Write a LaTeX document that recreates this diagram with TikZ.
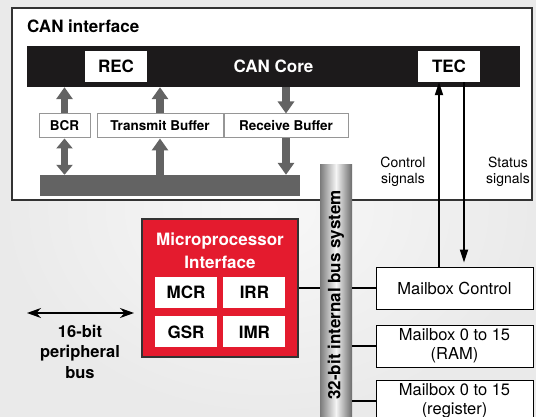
\documentclass[tikz,border=0pt]{standalone}
\usepackage{fontspec}
\setmainfont{TeX Gyre Heros}
\usetikzlibrary{arrows.meta,positioning,calc}
\definecolor{bggray}{RGB}{234,234,234}
\definecolor{bglight}{RGB}{248,248,248}
\definecolor{corebk}{RGB}{28,26,27}
\definecolor{blockgray}{RGB}{99,99,99}
\definecolor{bufline}{RGB}{150,150,150}
\definecolor{mpred}{RGB}{228,27,46}
\definecolor{edge}{RGB}{51,51,51}

\begin{document}
\begin{tikzpicture}[x=1pt, y=-1pt, >=Stealth, every node/.style={inner sep=0pt, font=\fontsize{17}{20}\selectfont\bfseries}, node distance=6pt]
% styles
\tikzstyle{canbox}=[rectangle,draw=edge,line width=1.2pt,fill=white,minimum width=520pt,minimum height=192pt]
\tikzstyle{counter}=[rectangle,fill=white,minimum width=62pt,minimum height=31pt]
\tikzstyle{buffer}=[rectangle,draw=bufline,line width=1pt,fill=white,minimum height=24pt,font=\fontsize{13.5}{16}\selectfont\bfseries]
\tikzstyle{reg}=[rectangle,fill=white,minimum width=62pt,minimum height=31pt]
\tikzstyle{mailbox}=[rectangle,draw=black,line width=1pt,fill=white,minimum width=157pt,minimum height=42pt,align=center,font=\fontsize{16.5}{19}\selectfont]
\tikzstyle{signal}=[align=center,font=\fontsize{14}{16.5}\selectfont]
\tikzstyle{fat}=[draw=blockgray,line width=7.5pt,-{Triangle[width=16pt,length=12pt]}]
\tikzstyle{fatboth}=[draw=blockgray,line width=7.5pt,{Triangle[width=16pt,length=10pt]}-{Triangle[width=16pt,length=10pt]}]
\tikzstyle{sig}=[draw=black,line width=1.8pt,-{Triangle[width=8pt,length=13pt]}]
\tikzstyle{tap}=[draw=black,line width=1.5pt]

% background
\useasboundingbox (0,0) rectangle (536,417);
\clip (0,0) rectangle (536,417);
\shade[inner color=bglight, outer color=bggray] (0,0) rectangle (536,417);

% CAN interface
\node[canbox] (can) at (272,104) {};
\node[anchor=base west] (cantitle) at (27,33) {CAN interface};
\node[rectangle,fill=corebk,minimum width=493pt,minimum height=41pt,text=white] (core) at (273.5,66.5) {CAN Core};
\node[counter] (rec) at (116,66.5) {REC};
\node[counter] (tec) at (449,66.5) {TEC};

% buffers
\node[buffer,minimum width=126pt] (tx) at (160,126) {Transmit Buffer};
\node[buffer,minimum width=124pt,right=0pt of tx] (rx) {Receive Buffer};
\node[buffer,minimum width=51pt,left=of tx] (bcr) {BCR};
\node[rectangle,fill=blockgray,minimum width=260pt,minimum height=21pt] (bar) at (170,185.5) {};

% block arrows
\draw[fat] (bcr.north) -- (bcr.north |- core.south);
\draw[fat] (tx.north) -- (tx.north |- core.south);
\draw[fat] (rx.north |- core.south) -- (rx.north);
\draw[fatboth] (bcr.south) -- (bcr.south |- bar.north);
\draw[fat] (tx.south |- bar.north) -- (tx.south);
\draw[fat] (rx.south) -- (rx.south |- bar.north);

% microprocessor interface
\node[rectangle,draw=edge,line width=2pt,fill=mpred,minimum width=156pt,minimum height=138pt] (mpi) at (220,288) {};
\node[text=white,align=center,font=\fontsize{17}{23}\selectfont\bfseries] (mpititle) at (220,250.5) {Microprocessor\\Interface};
\node[reg] (mcr) at (186,292.5) {MCR};
\node[reg,right=of mcr] (irr) {IRR};
\node[reg,below=8pt of mcr] (gsr) {GSR};
\node[reg,right=of gsr] (imr) {IMR};

% internal bus (shaded pillar, label on top)
\shade[left color=black!52,right color=black!58,middle color=black!4] (320,165) rectangle (352,430);
\node[rotate=90,minimum width=260pt,minimum height=32pt] (bus) at (336,295) {32-bit internal bus system};

% mailboxes
\node[mailbox] (mbc) at (454.5,288) {Mailbox Control};
\node[mailbox,below=15pt of mbc] (mbram) {Mailbox 0 to 15\\(RAM)};
\node[mailbox,below=12pt of mbram] (mbreg) {Mailbox 0 to 15\\(register)};

% taps on the bus
\draw[tap] (mpi.east) -- (bus.north |- mpi.east);
\foreach \m in {mbc,mbram,mbreg}
  \draw[tap] (\m.west) -- (bus.south |- \m.west);

% control and status signals
\coordinate (ctl) at ([xshift=-10pt]tec.south);
\coordinate (sts) at ([xshift=15pt]tec.south);
\draw[sig] (ctl |- mbc.north) -- (ctl);
\draw[sig,shorten >=4pt] (sts) -- (sts |- mbc.north);
\node[signal] (ctltxt) at (403,172) {Control\\signals};
\node[signal] (ststxt) at (508,172) {Status\\signals};

% peripheral bus
\coordinate (pbl) at (27,313);
\coordinate (pbr) at (134,313);
\draw[line width=1.8pt,{Stealth[width=10pt,length=14pt]}-{Stealth[width=10pt,length=14pt]}] (pbl) -- (pbr);
\node[align=center,font=\fontsize{16.5}{20.5}\selectfont\bfseries] (pbus) at (80,351.5) {16-bit\\peripheral\\bus};

\end{tikzpicture}
\end{document}
